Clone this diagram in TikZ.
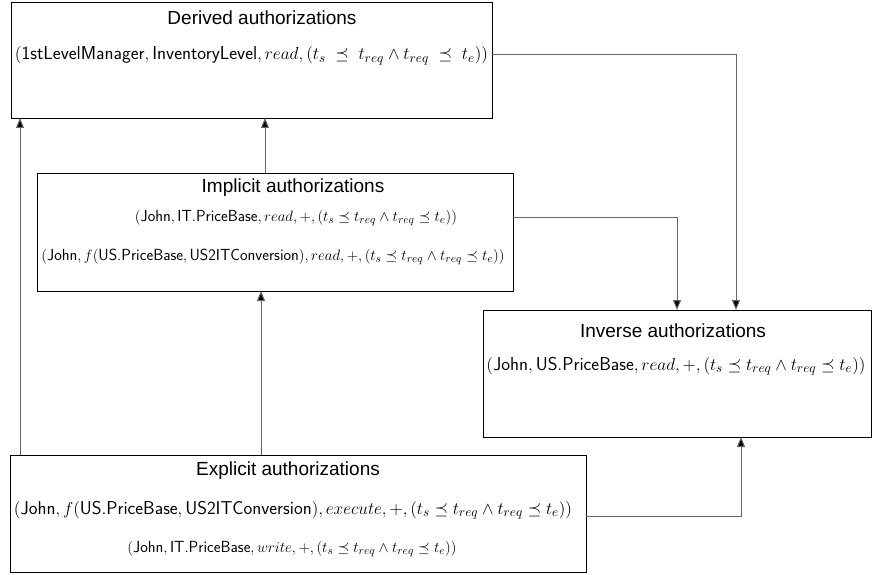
\documentclass[tikz,border=0pt]{standalone}
\usepackage{fontspec}
\newfontfamily\titlefont{Liberation Sans}
\usetikzlibrary{arrows.meta}
\newcommand{\tint}{(t_s \preceq t_{req} \wedge t_{req} \preceq t_e)}
\newcommand{\fitto}[2]{\resizebox{#1pt}{!}{#2}}
\begin{document}
\begin{tikzpicture}[x=1pt,y=-1pt,
  box/.style={draw=black,line width=0.8pt,inner sep=0pt,outer sep=0pt},
  ttl/.style={font=\titlefont\fontsize{19}{21}\selectfont,inner sep=0pt},
  frm/.style={font=\fontsize{15.5}{17}\selectfont,inner sep=0pt},
  conn/.style={draw=black!60,line width=1pt,-{Triangle[width=8pt,length=10pt,fill=black]}}]
\fill[white] (0,0) rectangle (873,575);
\useasboundingbox (0,0) rectangle (873,575);
% boxes
\node[box,minimum width=481pt,minimum height=116pt] (der) at (251.5,60) {};
\node[box,minimum width=476pt,minimum height=118pt] (imp) at (275,232) {};
\node[box,minimum width=388pt,minimum height=127pt] (inv) at (677,373.5) {};
\node[box,minimum width=576pt,minimum height=117pt] (exp) at (298,513.5) {};
% texts
\node[ttl] (derT) at (262,18) {Derived authorizations};
\node[frm] (derF) at (251.5,56) {\fitto{473}{$(\textsf{1stLevelManager}, \textsf{InventoryLevel}, read, (t_s \;\preceq\; t_{req} \wedge t_{req} \;\preceq\; t_e))$}};
\node[ttl] (impT) at (293,188) {Implicit authorizations};
\node[frm] (impF1) at (296,218) {\fitto{322}{$(\textsf{John}, \textsf{IT.PriceBase}, read, +, \tint)$}};
\node[frm] (impF2) at (273,257) {\fitto{463}{$(\textsf{John}, f(\textsf{US.PriceBase}, \textsf{US2ITConversion}), read, +, \tint)$}};
\node[ttl] (invT) at (673,331) {Inverse authorizations};
\node[frm] (invF) at (676,366) {\fitto{379}{$(\textsf{John}, \textsf{US.PriceBase}, read, +, \tint)$}};
\node[ttl] (expT) at (288,471) {Explicit authorizations};
\node[frm] (expF1) at (293,510) {\fitto{558}{$(\textsf{John}, f(\textsf{US.PriceBase}, \textsf{US2ITConversion}), execute, +, \tint)$}};
\node[frm] (expF2) at (292,549) {\fitto{329}{$(\textsf{John}, \textsf{IT.PriceBase}, write, +, \tint)$}};
% connector routing points
\coordinate (xl) at (20,0);
\coordinate (xa) at (261,0);
\coordinate (xb) at (265,0);
\coordinate (d1) at (736,55);
\coordinate (i1) at (677,217);
\coordinate (e1) at (741,516);
\draw[conn] (exp.north -| xl) -- (der.south -| xl);
\draw[conn] (exp.north -| xa) -- (imp.south -| xa);
\draw[conn] (imp.north -| xb) -- (der.south -| xb);
\draw[conn] (der.east |- d1) -- (d1) -- (inv.north -| d1);
\draw[conn] (imp.east |- i1) -- (i1) -- (inv.north -| i1);
\draw[conn] (exp.east |- e1) -- (e1) -- (inv.south -| e1);
\end{tikzpicture}
\end{document}
